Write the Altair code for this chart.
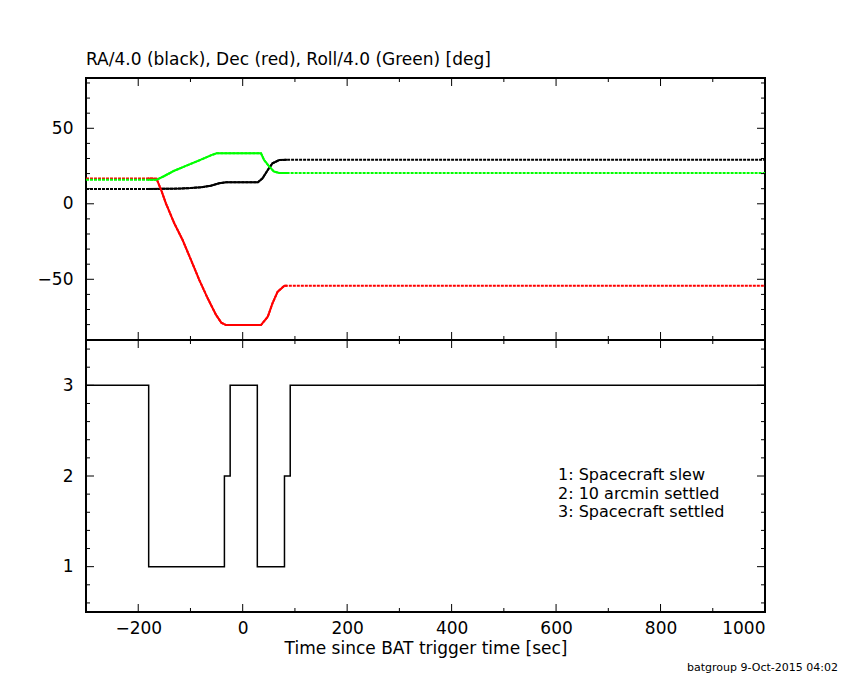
import altair as alt
import pandas as pd

# ---------------- data ----------------
# RA/4.0 (black)
ra_t = [-300, -182, -150, -118, -100, -80, -61, -45, -32, 0, 29, 38, 48, 57, 70, 85, 1000]
ra_v = [9.8, 9.8, 9.9, 10.1, 10.4, 10.9, 12.0, 13.6, 14.2, 14.2, 14.2, 16.9, 22.4, 26.8, 29.0, 29.1, 29.1]

# Dec (red)
dec_t = [-300, -182, -165, -156, -147, -131, -115, -99, -83, -67, -51, -41, -32, 0, 29, 35, 48, 57, 67, 80, 85, 1000]
dec_v = [16.8, 16.8, 16.6, 9.1, 0.3, -12.9, -24.0, -37.2, -50.5, -62.6, -73.6, -78.7, -80.3, -80.3, -80.3, -80.3,
         -74.8, -65.9, -58.2, -54.2, -54.2, -54.2]

# Roll/4.0 (green)
roll_t = [-300, -182, -165, -150, -131, -110, -80, -60, -50, -32, 0, 29, 35, 41, 51, 60, 70, 85, 1000]
roll_v = [15.9, 15.9, 15.9, 18.4, 21.9, 24.9, 29.2, 32.2, 33.4, 33.4, 33.4, 33.4, 33.4, 29.0, 24.6, 21.3, 20.4, 20.4, 20.4]

# Pointing state (1 slew, 2 10-arcmin settled, 3 settled)
state_t = [-300, -180, -35, -24, 28, 80, 91, 1000]
state_v = [3, 1, 2, 3, 1, 2, 3, 3]

series_names = ["RA/4.0", "Dec", "Roll/4.0"]
series_colors = ["#000000", "#ff0000", "#00ff00"]

x_major = [-200, 0, 200, 400, 600, 800, 1000]
x_minor = [-100, 100, 300, 500, 700, 900]
top_major = [-50, 0, 50]
top_minor = [-80, -70, -60, -40, -30, -20, -10, 10, 20, 30, 40, 60, 70, 80]
bot_major = [1, 2, 3]
bot_minor = [0.6, 0.8, 1.2, 1.4, 1.6, 1.8, 2.2, 2.4, 2.6, 2.8, 3.2, 3.4]

legend_lines = ["1: Spacecraft slew", "2: 10 arcmin settled", "3: Spacecraft settled"]
top_title = "RA/4.0 (black), Dec (red), Roll/4.0 (Green) [deg]"
x_title = "Time since BAT trigger time [sec]"
footer = "batgroup  9-Oct-2015 04:02"

# ---------------- tables ----------------
rows = []
for name, ts, vs in zip(series_names, [ra_t, dec_t, roll_t], [ra_v, dec_v, roll_v]):
    for t, v in zip(ts, vs):
        rows.append({"series": name, "time": t, "value": v})
att_df = pd.DataFrame(rows)
state_df = pd.DataFrame({"time": state_t, "state": state_v})

W = 679
H_TOP = 262
H_BOT = 272
FONT = "DejaVu Sans"
FS = 17

xscale = alt.Scale(domain=[-300, 1000], nice=False, zero=False)
ytop = alt.Scale(domain=[-90.2, 83.3], nice=False, zero=False)
ybot = alt.Scale(domain=[0.5, 3.5], nice=False, zero=False)
cscale = alt.Scale(domain=series_names, range=series_colors)

top_y_axis = alt.Axis(values=top_major, ticks=False, domain=False, grid=False, format="d",
                      labelPadding=13, title=None)
bot_x_axis = alt.Axis(values=x_major, ticks=False, domain=False, grid=False, format="d",
                      labelPadding=8, title=x_title, titlePadding=4)
bot_y_axis = alt.Axis(values=bot_major, ticks=False, domain=False, grid=False, format="d",
                      labelPadding=13, title=None)


def tick_layers(ys, xaxis, yaxis, xmaj, xmin, ymaj, ymin, h):
    layers = []
    for vals, ln in ((xmaj, 8), (xmin, 4)):
        base = alt.Chart(pd.DataFrame({"t": vals})).mark_rule(color="black", strokeWidth=1)
        layers.append(base.encode(x=alt.X("t:Q", scale=xscale, axis=xaxis),
                                  y=alt.value(h), y2=alt.value(h - ln)))
        layers.append(base.encode(x=alt.X("t:Q", scale=xscale, axis=xaxis),
                                  y=alt.value(0), y2=alt.value(ln)))
    for vals, ln in ((ymaj, 8), (ymin, 4)):
        base = alt.Chart(pd.DataFrame({"v": vals})).mark_rule(color="black", strokeWidth=1)
        layers.append(base.encode(y=alt.Y("v:Q", scale=ys, axis=yaxis),
                                  x=alt.value(0), x2=alt.value(ln)))
        layers.append(base.encode(y=alt.Y("v:Q", scale=ys, axis=yaxis),
                                  x=alt.value(W), x2=alt.value(W - ln)))
    return layers


dashed = alt.Chart(att_df).mark_line(strokeDash=[3, 1], strokeWidth=2).encode(
    x=alt.X("time:Q", scale=xscale, axis=None),
    y=alt.Y("value:Q", scale=ytop, axis=top_y_axis),
    color=alt.Color("series:N", scale=cscale, legend=None),
)
solid = alt.Chart(att_df).transform_filter(
    "(datum.time >= -183 && datum.time <= -30) || (datum.time >= 29 && datum.time <= 85)"
).mark_line(strokeWidth=2).encode(
    x=alt.X("time:Q", scale=xscale, axis=None),
    y=alt.Y("value:Q", scale=ytop, axis=top_y_axis),
    color=alt.Color("series:N", scale=cscale, legend=None),
)

top = alt.layer(
    dashed, solid, *tick_layers(ytop, None, top_y_axis, x_major, x_minor, top_major, top_minor, H_TOP)
).properties(
    width=W, height=H_TOP,
    title=alt.TitleParams(top_title, anchor="start", frame="group", fontSize=FS,
                          fontWeight="normal", font=FONT, color="black", offset=9),
)

step = alt.Chart(state_df).mark_line(interpolate="step-after", color="black", strokeWidth=1.5).encode(
    x=alt.X("time:Q", scale=xscale, axis=bot_x_axis),
    y=alt.Y("state:Q", scale=ybot, axis=bot_y_axis),
)

legend_text = alt.Chart(pd.DataFrame({"k": [0]})).mark_text(
    align="left", baseline="top", fontSize=16, font=FONT, color="black", lineHeight=18.5,
    text=legend_lines,
).encode(x=alt.value(472), y=alt.value(127))

bottom = alt.layer(
    step, legend_text, *tick_layers(ybot, bot_x_axis, bot_y_axis, x_major, x_minor, bot_major, bot_minor, H_BOT)
).properties(width=W, height=H_BOT)

chart = alt.vconcat(top, bottom, spacing=0, bounds="flush").properties(
    padding={"left": 28, "top": 41, "right": 0, "bottom": 4},
    background="white",
    title=alt.TitleParams(footer, orient="bottom", anchor="end", fontSize=11,
                          fontWeight="normal", font=FONT, color="black", dx=68, offset=5),
).configure_view(
    stroke="black", strokeWidth=2
).configure_axis(
    labelFont=FONT, labelFontSize=FS, labelColor="black",
    titleFont=FONT, titleFontSize=FS, titleFontWeight="normal", titleColor="black",
)

chart.save("out.html", embed_options={"renderer": "svg", "actions": False})
